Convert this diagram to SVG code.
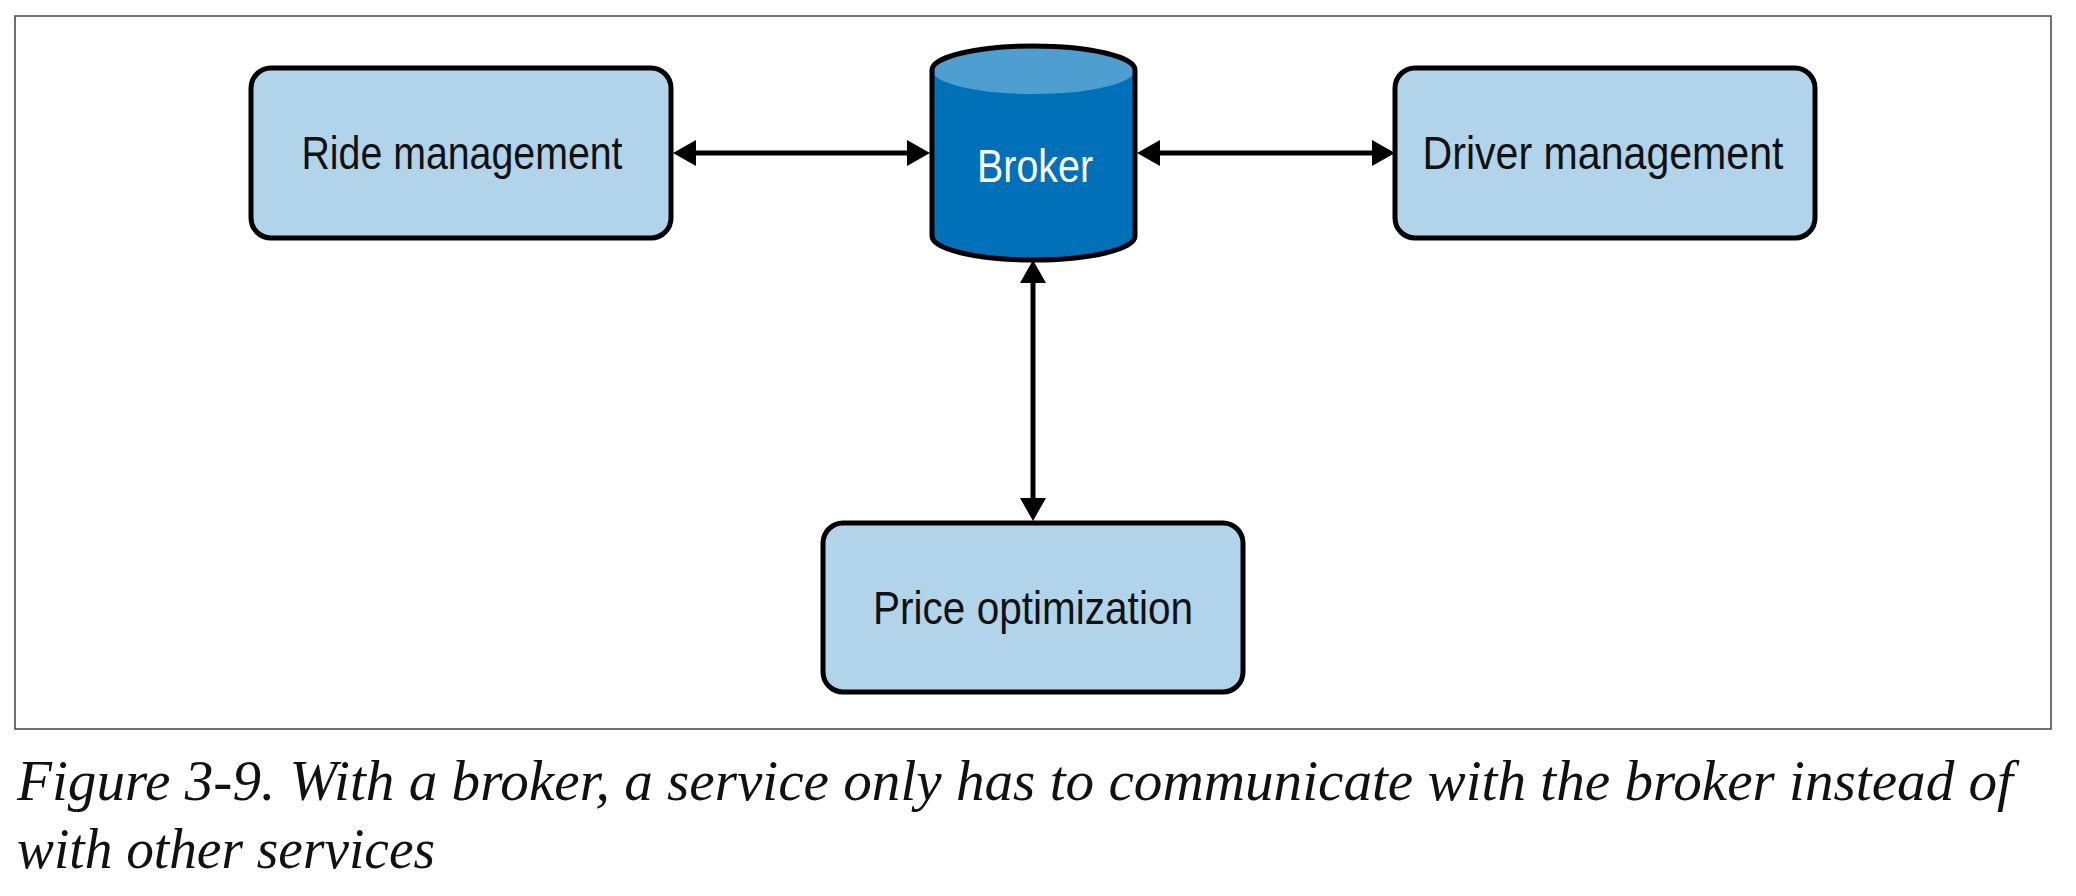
<svg xmlns="http://www.w3.org/2000/svg" width="2076" height="896" viewBox="0 0 2076 896">
  <style>
    .box { fill: #b1d4ea; stroke: #000; stroke-width: 5; }
    .lbl { font-family: "Liberation Sans Narrow", "Liberation Sans", sans-serif; font-size: 47px; fill: #111; text-anchor: middle; }
    .conn { stroke: #000; stroke-width: 5; fill: none; }
    .cap { font-family: "Liberation Serif", serif; font-style: italic; font-size: 57px; fill: #111; }
  </style>
  <defs>
    <marker id="ah" markerUnits="userSpaceOnUse" markerWidth="24" markerHeight="28" refX="0" refY="13" orient="auto-start-reverse" viewBox="0 0 24 26">
      <path d="M0,0 L23,13 L0,26 z" fill="#000"/>
    </marker>
  </defs>
  <rect width="2076" height="896" fill="#fff"/>
  <rect x="15" y="16" width="2036" height="713" fill="none" stroke="#444" stroke-width="1.5"/>

  <g id="connectors">
    <line class="conn" x1="696" y1="153" x2="907" y2="153" marker-start="url(#ah)" marker-end="url(#ah)"/>
    <line class="conn" x1="1160" y1="153" x2="1372" y2="153" marker-start="url(#ah)" marker-end="url(#ah)"/>
    <line class="conn" x1="1033" y1="283" x2="1033" y2="498" marker-start="url(#ah)" marker-end="url(#ah)"/>
  </g>

  <g id="ride">
    <rect class="box" x="251" y="68" width="420" height="170" rx="20"/>
    <text class="lbl" x="462" y="169" textLength="321" lengthAdjust="spacingAndGlyphs">Ride management</text>
  </g>

  <g id="broker">
    <path d="M932,70 L932,236 A101.5,24 0 0 0 1135,236 L1135,70 Z" fill="#0070b8"/>
    <ellipse cx="1033.5" cy="70" rx="101.5" ry="24" fill="#4e9ed2"/>
    <path d="M932,70 L932,236 A101.5,24 0 0 0 1135,236 L1135,70 A101.5,24 0 0 0 932,70 Z" fill="none" stroke="#000" stroke-width="5"/>
    <text x="1035" y="182" font-family="'Liberation Sans Narrow', 'Liberation Sans', sans-serif" font-size="47" fill="#fff" text-anchor="middle" textLength="116" lengthAdjust="spacingAndGlyphs">Broker</text>
  </g>

  <g id="driver">
    <rect class="box" x="1395" y="68" width="420" height="170" rx="20"/>
    <text class="lbl" x="1603" y="169" textLength="361" lengthAdjust="spacingAndGlyphs">Driver management</text>
  </g>

  <g id="price">
    <rect class="box" x="823" y="523" width="420" height="169" rx="20"/>
    <text class="lbl" x="1033" y="624" textLength="320" lengthAdjust="spacingAndGlyphs">Price optimization</text>
  </g>

  <g id="caption">
    <text class="cap" x="17" y="800" textLength="1996" lengthAdjust="spacingAndGlyphs">Figure 3-9. With a broker, a service only has to communicate with the broker instead of</text>
    <text class="cap" x="17" y="868" textLength="418" lengthAdjust="spacingAndGlyphs">with other services</text>
  </g>
</svg>
